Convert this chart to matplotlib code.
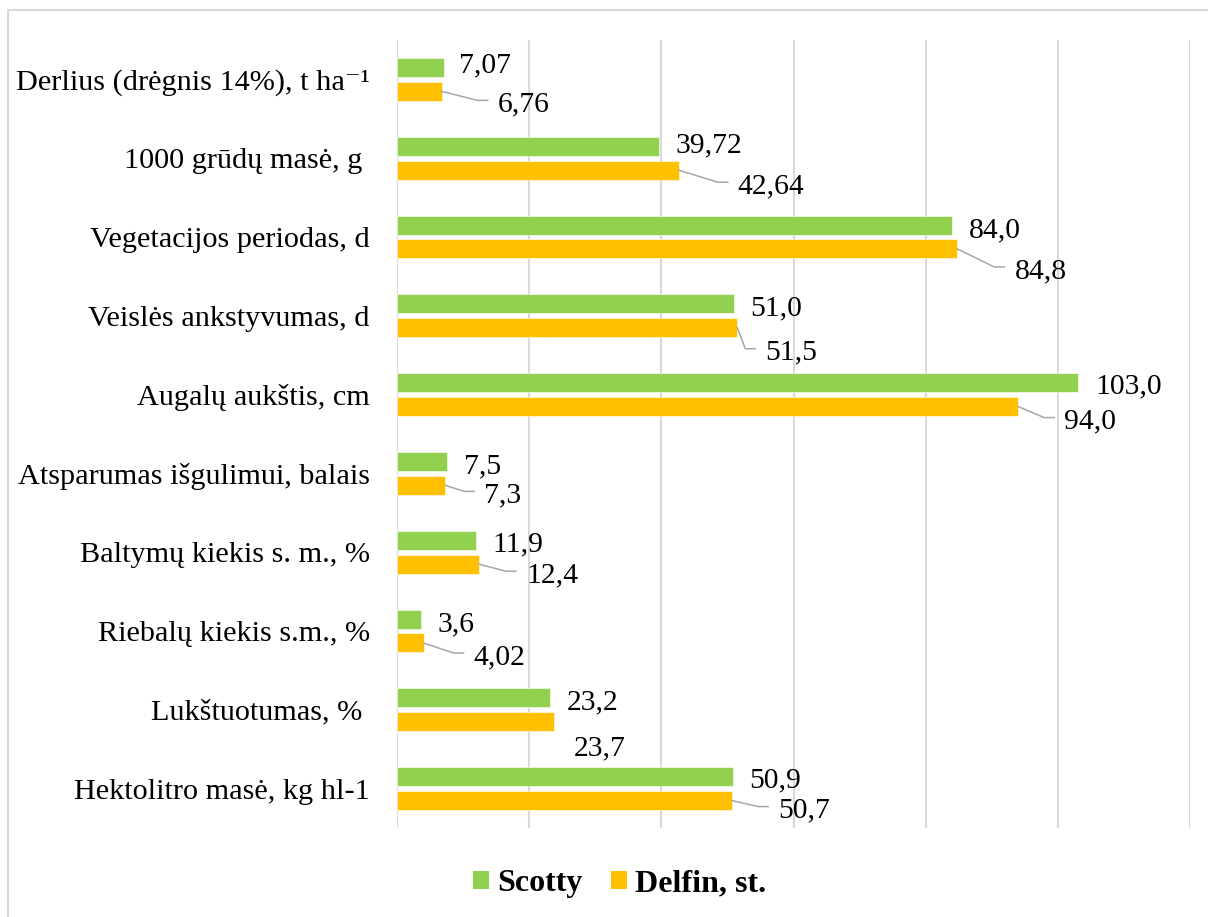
import matplotlib
matplotlib.use('Agg')
import matplotlib.pyplot as plt
import numpy as np
from matplotlib.patches import Rectangle, Patch
from matplotlib.transforms import IdentityTransform
from matplotlib.lines import Line2D

# ---------------- data ----------------
categories = [
    'Derlius (drėgnis 14%), t ha\u207b\u00b9',
    '1000 grūdų masė, g ',
    'Vegetacijos periodas, d',
    'Veislės ankstyvumas, d',
    'Augalų aukštis, cm',
    'Atsparumas išgulimui, balais',
    'Baltymų kiekis s. m., %',
    'Riebalų kiekis s.m., %',
    'Lukštuotumas, % ',
    'Hektolitro masė, kg hl-1',
]
scotty = [7.07, 39.72, 84.0, 51.0, 103.0, 7.5, 11.9, 3.6, 23.2, 50.9]
delfin = [6.76, 42.64, 84.8, 51.5, 94.0, 7.3, 12.4, 4.02, 23.7, 50.7]
scotty_labels = ['7,07', '39,72', '84,0', '51,0', '103,0', '7,5', '11,9', '3,6', '23,2', '50,9']
delfin_labels = ['6,76', '42,64', '84,8', '51,5', '94,0', '7,3', '12,4', '4,02', '23,7', '50,7']
series_names = ['Scotty', 'Delfin, st.']
xticks = [0, 20, 40, 60, 80, 100, 120]

# ---------------- layout (pixel offsets of labels) ----------------
g_dx = [15, 16, 17, 16, 18, 17, 17, 17, 16, 16]
g_dy = [-5, -4, 2, 2, 1, 2, 1, 2, 2, 1]
o_dx = [56, 59, 57, 28, 46, 39, 47, 50, 20, 46]
o_dy = [10, 13, 19, 22, 12, 7, 8, 11, 24, 7]
o_leader = [True, True, True, True, True, True, True, True, False, True]

GREEN = '#92D050'
ORANGE = '#FFC000'
GRID = '#D9D9D9'
SERIF = ['Liberation Serif', 'DejaVu Serif']
FS_VAL = 21.3
FS_CAT = 21.8
FS_LEG = 23

W, H = 1208, 917
fig = plt.figure(figsize=(W / 100, H / 100), dpi=100)
fig.patch.set_facecolor('white')

# chart border
fig.add_artist(Rectangle((8 / W, -0.5), 2.0, (1 - 10 / H) + 0.5, transform=fig.transFigure,
                         fill=False, edgecolor=GRID, lw=1.5, clip_on=False))

ax = fig.add_axes([397 / W, 1 - 828 / H, (1190 - 397) / W, (828 - 40) / H])
y = np.arange(len(categories))
off = 0.152
bh = 0.241
ax.barh(y - off, scotty, height=bh, color=GREEN, edgecolor='white', linewidth=0.4, zorder=2)
ax.barh(y + off, delfin, height=bh, color=ORANGE, edgecolor='white', linewidth=0.4, zorder=2)
ax.set_xlim(0, 120)
ax.set_ylim(len(categories) - 0.5, -0.5)
ax.set_xticks(xticks)
ax.xaxis.grid(True, color=GRID, lw=1.5)
ax.set_axisbelow(True)
ax.tick_params(axis='x', length=0, labelbottom=False)
ax.tick_params(axis='y', length=0, pad=19.5)
ax.set_yticks(y)
ax.set_yticklabels(categories, fontsize=FS_CAT, family=SERIF)
for s in ax.spines.values():
    s.set_visible(False)

fig.canvas.draw()
DIG = 10.0  # half digit height in px
tr = IdentityTransform()
for i in range(len(categories)):
    # green labels
    px, py = ax.transData.transform((scotty[i], y[i] - off))
    fig.text(px + g_dx[i], py - g_dy[i] - DIG, scotty_labels[i], transform=tr,
             fontsize=FS_VAL, family=SERIF, ha='left', va='baseline', color='black')
    # orange labels
    px, py = ax.transData.transform((delfin[i], y[i] + off))
    tx = px + o_dx[i]
    tyc = py - o_dy[i]
    fig.text(tx, tyc - DIG, delfin_labels[i], transform=tr,
             fontsize=FS_VAL, family=SERIF, ha='left', va='baseline', color='black')
    if o_leader[i]:
        ly = tyc + 1
        fig.add_artist(Line2D([px, tx - 20, tx - 10], [py, ly, ly], transform=tr,
                              color='#A6A6A6', lw=1.1))

handles = [Patch(facecolor=GREEN), Patch(facecolor=ORANGE)]
fig.legend(handles, series_names, loc='center', bbox_to_anchor=(619.5 / W, 1 - 884 / H),
           ncol=2, frameon=False, prop=dict(family=SERIF, weight='bold', size=FS_LEG),
           handlelength=0.5, handleheight=0.5, handletextpad=0.25, columnspacing=0.9)

fig.savefig('out.png', dpi=100)
